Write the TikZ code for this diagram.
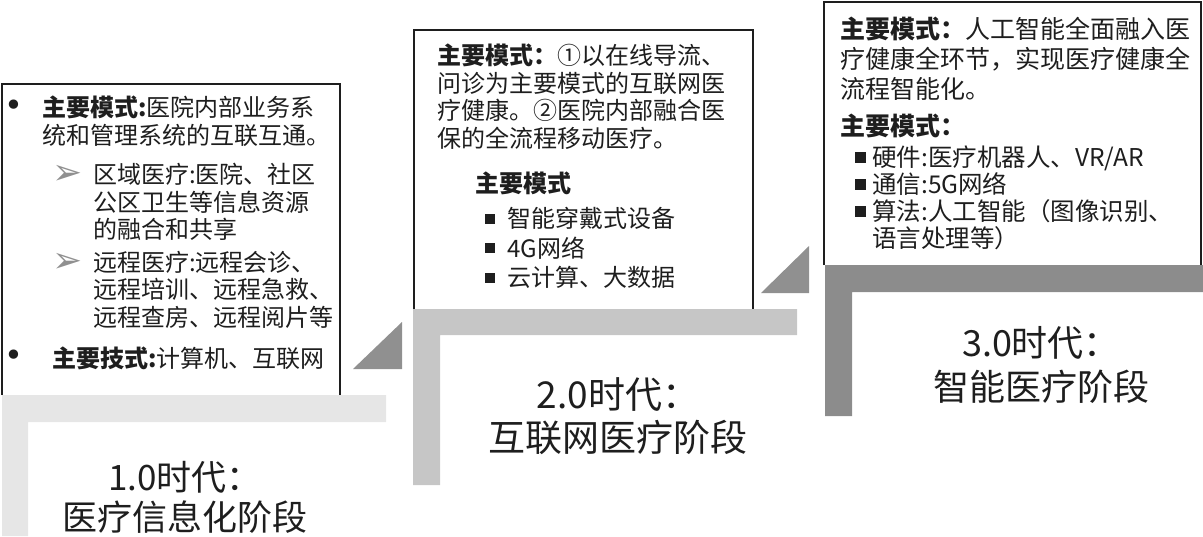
\documentclass[tikz,border=0pt]{standalone}
\usepackage{fontspec}
\setmainfont{Noto Sans CJK SC}
\newfontfamily\symfont{DejaVu Sans}
\usepackage{xcolor}
\definecolor{ink}{HTML}{1E1E1E}
\definecolor{barA}{HTML}{E6E6E6}
\definecolor{barB}{HTML}{C6C6C6}
\definecolor{barC}{HTML}{8C8C8C}
\definecolor{wedge}{HTML}{909090}
\newcommand{\sqmark}[1]{\rule[\dimexpr 9pt-#1/2\relax]{#1}{#1}}

\begin{document}
\begin{tikzpicture}[x=1pt, y=-1pt,
  frame/.style={draw=ink, line width=1.3pt},
  body/.style={anchor=north west, inner sep=0pt, align=left, text=ink, font=\fontsize{24}{27.5}\selectfont},
  dotmark/.style={inner sep=0pt, text=ink, font=\symfont\fontsize{32}{32}\selectfont},
  arrowmark/.style={inner sep=0pt, text=wedge, font=\symfont\bfseries\fontsize{36}{36}\selectfont},
  stage/.style={inner sep=0pt, align=center, text=ink, font=\fontsize{35}{40}\selectfont}
]
\useasboundingbox (0,0) rectangle (1203,536);

\draw[frame] (2,395) -- (2,84) -- (340,84) -- (340,395);
\draw[frame] (414,309) -- (414,30) -- (753,30) -- (753,309);
\draw[frame] (824,265) -- (824,2) -- (1201,2) -- (1201,265);

\fill[barA] (2,395) -- (386,395) -- (386,422) -- (28,422) -- (28,536) -- (2,536) -- cycle;
\fill[barB] (413,309) -- (797,309) -- (797,335) -- (440,335) -- (440,485) -- (413,485) -- cycle;
\fill[barC] (825,265) -- (1203,265) -- (1203,292) -- (852,292) -- (852,416) -- (825,416) -- cycle;
\fill[wedge] (353,369) -- (402,322) -- (402,369) -- cycle;
\fill[wedge] (761,293) -- (809,246) -- (809,293) -- cycle;

\node[dotmark] (dot1) at (14,108) {•};
\node[body] (mode1) at (42,96) {\textbf{主要模式:}医院内部业务系\\统和管理系统的互联互通。};
\node[arrowmark] (arr1) at (68,175) {➢};
\node[body] (region) at (93,163) {区域医疗:医院、社区\\公区卫生等信息资源\\的融合和共享};
\node[arrowmark] (arr2) at (68,263) {➢};
\node[body] (remote) at (93,251) {远程医疗:远程会诊、\\远程培训、远程急救、\\远程查房、远程阅片等};
\node[dotmark] (dot2) at (14,358) {•};
\node[body] (tech1) at (52,347) {\textbf{主要技式:}计算机、互联网};

\node[body] (mode2) at (437,44) {\textbf{主要模式：}①以在线导流、\\问诊为主要模式的互联网医\\疗健康。②医院内部融合医\\保的全流程移动医疗。};
\node[body] (head2) at (475,172) {\textbf{主要模式}};
\node[body, font=\fontsize{24}{29.5}\selectfont] (list2) at (485,207) {\sqmark{10pt}\hspace{12pt}智能穿戴式设备\\\sqmark{10pt}\hspace{12pt}4G网络\\\sqmark{10pt}\hspace{12pt}云计算、大数据};

\node[body, font=\fontsize{25}{30}\selectfont] (mode3) at (840,17) {\textbf{主要模式：}人工智能全面融入医\\疗健康全环节，实现医疗健康全\\流程智能化。};
\node[body, font=\fontsize{25}{30}\selectfont] (head3) at (840,114) {\textbf{主要模式：}};
\node[body, font=\fontsize{24.5}{27}\selectfont] (list3) at (855,146) {\sqmark{11pt}\hspace{6pt}硬件:医疗机器人、VR/AR\\\sqmark{11pt}\hspace{6pt}通信:5G网络\\\sqmark{11pt}\hspace{6pt}算法:人工智能（图像识别、\\\hspace{17pt}语言处理等）};

\node[stage] (era1) at (185,497) {1.0时代：\\医疗信息化阶段};
\node[stage, font=\fontsize{37}{43}\selectfont] (era2) at (618,416) {2.0时代：\\互联网医疗阶段};
\node[stage, font=\fontsize{36}{44}\selectfont] (era3) at (1041,365) {3.0时代：\\智能医疗阶段};
\end{tikzpicture}
\end{document}
